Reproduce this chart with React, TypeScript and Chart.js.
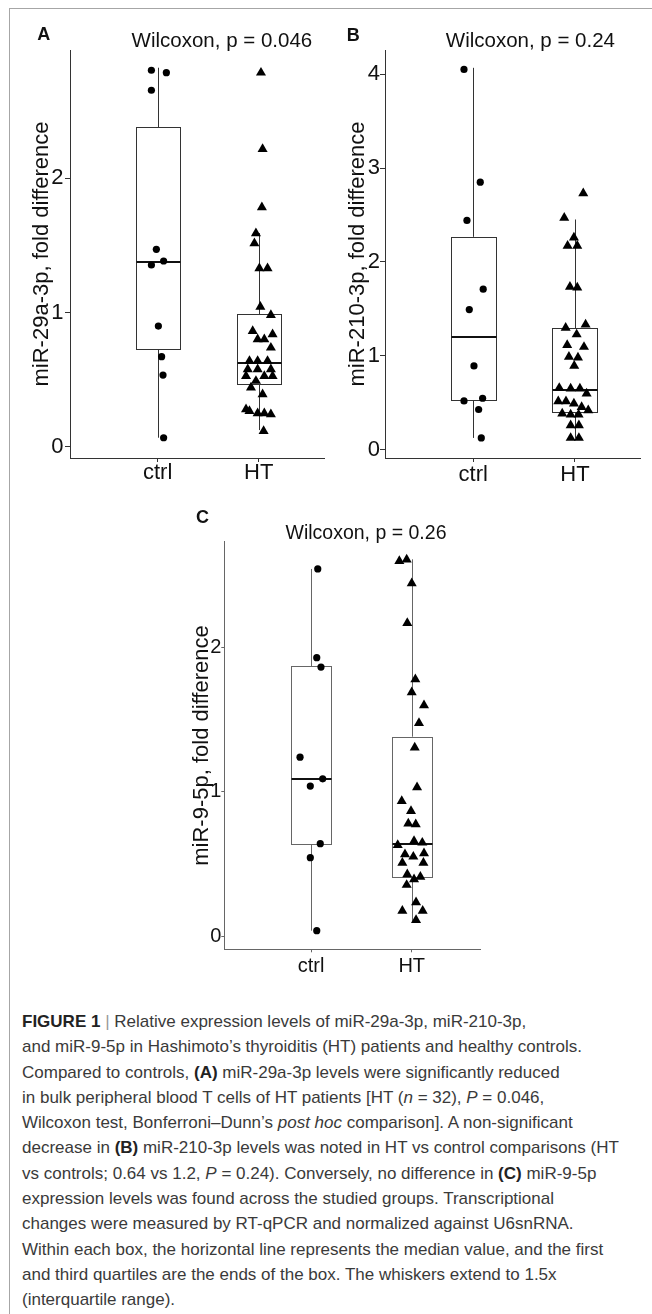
import React, { useEffect, useRef } from "react";
import { Chart, registerables } from "chart.js";
Chart.register(...registerables);

const FONT = "'Liberation Sans', Arial, Helvetica, sans-serif";
const categories = ["ctrl", "HT"];

// ---------- Panel A: miR-29a-3p ----------
const aYTicks = [0, 1, 2];
const aCtrlValues = [2.805, 2.787, 2.656, 1.471, 1.354, 1.384, 0.899, 0.671, 0.534, 0.067];
const aCtrlJitter = [-0.062, 0.086, -0.062, -0.013, -0.062, 0.059, 0.007, 0.039, 0.053, 0.059];
const aHtValues = [2.787, 2.218, 1.784, 1.59, 1.516, 1.329, 1.329, 1.043, 0.981, 0.862, 0.838, 0.8, 0.8, 0.738, 0.639, 0.639, 0.639, 0.577, 0.577, 0.577, 0.527, 0.527, 0.527, 0.44, 0.49, 0.39, 0.279, 0.266, 0.249, 0.249, 0.241, 0.117];
const aHtJitter = [0.023, 0.039, 0.032, -0.027, -0.042, 0.007, 0.088, 0.017, 0.121, -0.059, 0.138, -0.01, 0.056, 0.121, -0.091, -0.01, 0.088, -0.108, -0.01, 0.121, -0.125, 0.056, 0.138, -0.076, -0.027, 0.039, -0.125, -0.091, -0.01, 0.056, 0.121, 0.049];
// [lower whisker, Q1, median, Q3, upper whisker]
const aCtrlBox = [0.067, 0.728, 1.378, 2.38, 2.824];
const aHtBox = [0.124, 0.467, 0.621, 0.989, 1.592];

// ---------- Panel B: miR-210-3p ----------
const bYTicks = [0, 1, 2, 3, 4];
const bCtrlValues = [4.053, 2.851, 2.443, 1.71, 1.493, 0.892, 0.518, 0.547, 0.427, 0.124];
const bCtrlJitter = [-0.091, 0.069, -0.062, 0.098, -0.039, 0.007, -0.091, 0.092, 0.053, 0.079];
const bHtValues = [2.731, 2.47, 2.261, 2.172, 2.172, 1.734, 1.728, 1.297, 1.333, 1.227, 1.113, 1.094, 0.988, 0.981, 0.892, 0.657, 0.651, 0.651, 0.597, 0.515, 0.515, 0.491, 0.454, 0.419, 0.384, 0.373, 0.373, 0.259, 0.259, 0.124, 0.124];
const bHtJitter = [0.082, -0.105, -0.01, -0.072, 0.023, -0.049, 0.023, -0.091, 0.105, 0.017, -0.076, 0.089, -0.059, 0.03, -0.007, -0.154, -0.042, 0.049, 0.115, -0.164, -0.088, -0.01, 0.066, 0.131, -0.125, -0.042, 0.036, -0.042, 0.039, -0.042, 0.039];
const bCtrlBox = [0.124, 0.526, 1.195, 2.268, 4.07];
const bHtBox = [0.124, 0.398, 0.64, 1.291, 2.453];

// ---------- Panel C: miR-9-5p ----------
const cYTicks = [0, 1, 2];
const cCtrlValues = [2.545, 1.93, 1.865, 1.24, 1.09, 1.04, 0.64, 0.543, 0.037];
const cCtrlJitter = [0.067, 0.057, 0.099, -0.109, 0.116, -0.007, 0.092, -0.007, 0.057];
const cHtValues = [2.6, 2.61, 2.446, 2.17, 1.78, 1.69, 1.6, 1.477, 1.306, 1.031, 0.936, 0.867, 0.78, 0.775, 0.659, 0.647, 0.631, 0.567, 0.55, 0.573, 0.508, 0.508, 0.428, 0.411, 0.393, 0.354, 0.234, 0.175, 0.175, 0.111];
const cHtJitter = [-0.123, -0.05, 0, -0.044, 0.036, 0, 0.122, 0.072, 0.03, 0.053, -0.099, -0.007, -0.034, 0.04, 0.023, 0.105, -0.139, -0.067, 0.016, 0.122, -0.093, 0.116, -0.044, 0.086, 0.023, -0.05, 0.043, -0.093, 0.109, 0.043];
const cCtrlBox = [0.037, 0.636, 1.089, 1.872, 2.545];
const cHtBox = [0.104, 0.411, 0.638, 1.382, 2.612];

type PanelCfg = {
  letter: string; note: string; yTitle: string;
  left: number; top: number; w: number; h: number;
  padTop: number; padRight: number; yWidth: number; xHeight: number;
  xMin: number; xMax: number; yMin: number; yMax: number; yTicks: number[];
  tickFont: number; titleFont: number; noteFont: number;
  yTitlePad: number; yTickLen: number; yTickPad: number; xTickLen: number; xTickPad: number;
  halfW: number; noteX: number; noteDy: number; letterX: number; letterY: number;
  lineColor: string;
  ctrlValues: number[]; ctrlJitter: number[]; htValues: number[]; htJitter: number[];
  boxes: number[][];
};

const panels: PanelCfg[] = [
  {
    letter: "A", note: "Wilcoxon, p = 0.046", yTitle: "miR-29a-3p, fold difference",
    left: 0, top: 0, w: 330, h: 500, padTop: 50, padRight: 4, yWidth: 70, xHeight: 42,
    xMin: 0.132, xMax: 2.649, yMin: -0.084, yMax: 2.956, yTicks: aYTicks,
    tickFont: 22, titleFont: 22, noteFont: 20.5,
    yTitlePad: 28.5, yTickLen: 5, yTickPad: 1.5, xTickLen: 4, xTickPad: 0.3,
    halfW: 0.218, noteX: 1.636, noteDy: -3.3, letterX: 37.3, letterY: 40,
    lineColor: "#333",
    ctrlValues: aCtrlValues, ctrlJitter: aCtrlJitter, htValues: aHtValues, htJitter: aHtJitter,
    boxes: [aCtrlBox, aHtBox],
  },
  {
    letter: "B", note: "Wilcoxon, p = 0.24", yTitle: "miR-210-3p, fold difference",
    left: 320, top: 0, w: 332, h: 500, padTop: 50, padRight: 12, yWidth: 65, xHeight: 42,
    xMin: 0.132, xMax: 2.64, yMin: -0.09, yMax: 4.26, yTicks: bYTicks,
    tickFont: 22, titleFont: 22, noteFont: 20.5,
    yTitlePad: 25, yTickLen: 5, yTickPad: 0, xTickLen: 4, xTickPad: 2.3,
    halfW: 0.221, noteX: 1.562, noteDy: -3.3, letterX: 26.7, letterY: 40.7,
    lineColor: "#333",
    ctrlValues: bCtrlValues, ctrlJitter: bCtrlJitter, htValues: bHtValues, htJitter: bHtJitter,
    boxes: [bCtrlBox, bHtBox],
  },
  {
    letter: "C", note: "Wilcoxon, p = 0.26", yTitle: "miR-9-5p, fold difference",
    left: 160, top: 500, w: 340, h: 500, padTop: 41.7, padRight: 20, yWidth: 64.3, xHeight: 50.7,
    xMin: 0.139, xMax: 2.678, yMin: -0.092, yMax: 2.734, yTicks: cYTicks,
    tickFont: 20, titleFont: 22, noteFont: 19.5,
    yTitlePad: 29.1, yTickLen: 3, yTickPad: 0, xTickLen: 3, xTickPad: 3.7,
    halfW: 0.2, noteX: 1.546, noteDy: -2.4, letterX: 36, letterY: 22.7,
    lineColor: "#666",
    ctrlValues: cCtrlValues, ctrlJitter: cCtrlJitter, htValues: cHtValues, htJitter: cHtJitter,
    boxes: [cCtrlBox, cHtBox],
  },
];

function makeBoxPlugin(p: PanelCfg) {
  return {
    id: "boxes" + p.letter,
    beforeDatasetsDraw(chart: any) {
      const { ctx, scales } = chart;
      const x = scales.x, y = scales.y;
      ctx.save();
      p.boxes.forEach((b, i) => {
        const c = x.getPixelForValue(i + 1);
        const l = x.getPixelForValue(i + 1 - p.halfW);
        const r = x.getPixelForValue(i + 1 + p.halfW);
        const [mn, q1, md, q3, mx] = b;
        const cx = Math.round(c) + 0.5;
        ctx.strokeStyle = p.lineColor;
        ctx.lineWidth = 1;
        ctx.beginPath();
        ctx.moveTo(cx, y.getPixelForValue(mx));
        ctx.lineTo(cx, y.getPixelForValue(q3));
        ctx.moveTo(cx, y.getPixelForValue(q1));
        ctx.lineTo(cx, y.getPixelForValue(mn));
        ctx.stroke();
        const top = Math.round(y.getPixelForValue(q3)) + 0.5;
        const bot = Math.round(y.getPixelForValue(q1)) + 0.5;
        const lx = Math.round(l) + 0.5;
        const rx = Math.round(r) + 0.5;
        ctx.fillStyle = "#fff";
        ctx.fillRect(lx, top, rx - lx, bot - top);
        ctx.strokeRect(lx, top, rx - lx, bot - top);
        ctx.strokeStyle = "#111";
        ctx.lineWidth = 2;
        ctx.beginPath();
        const my = Math.round(y.getPixelForValue(md));
        ctx.moveTo(lx, my);
        ctx.lineTo(rx, my);
        ctx.stroke();
      });
      ctx.restore();
    },
  };
}

function makeNotePlugin(p: PanelCfg) {
  return {
    id: "notes" + p.letter,
    afterDraw(chart: any) {
      const { ctx, scales, chartArea } = chart;
      ctx.save();
      ctx.fillStyle = "#111";
      ctx.textBaseline = "alphabetic";
      ctx.font = `${p.noteFont}px ${FONT}`;
      ctx.textAlign = "center";
      ctx.fillText(p.note, scales.x.getPixelForValue(p.noteX), chartArea.top + p.noteDy);
      ctx.font = `bold 18px ${FONT}`;
      ctx.textAlign = "left";
      ctx.fillText(p.letter, p.letterX, p.letterY);
      ctx.restore();
    },
  };
}

function buildConfig(p: PanelCfg): any {
  return {
    type: "scatter",
    data: {
      datasets: [
        {
          label: categories[0],
          data: p.ctrlValues.map((v, i) => ({ x: 1 + p.ctrlJitter[i], y: v })),
          pointStyle: "circle",
          pointRadius: 3.6,
          backgroundColor: "#000",
          borderColor: "#000",
          borderWidth: 0,
        },
        {
          label: categories[1],
          data: p.htValues.map((v, i) => ({ x: 2 + p.htJitter[i], y: v })),
          pointStyle: "triangle",
          pointRadius: 5.8,
          backgroundColor: "#000",
          borderColor: "#000",
          borderWidth: 0,
        },
      ],
    },
    options: {
      responsive: false,
      maintainAspectRatio: false,
      animation: false,
      events: [],
      layout: { padding: { top: p.padTop, right: p.padRight, left: 0, bottom: 0 } },
      plugins: { legend: { display: false }, tooltip: { enabled: false }, title: { display: false } },
      scales: {
        x: {
          type: "linear",
          min: p.xMin,
          max: p.xMax,
          afterBuildTicks: (s: any) => {
            s.ticks = categories.map((_, i) => ({ value: i + 1 }));
          },
          afterFit: (s: any) => {
            s.height = p.xHeight;
          },
          grid: { drawOnChartArea: false, drawTicks: true, tickLength: p.xTickLen, color: p.lineColor, lineWidth: 1 },
          border: { display: true, color: p.lineColor, width: 1 },
          ticks: {
            autoSkip: false,
            maxRotation: 0,
            padding: p.xTickPad,
            color: "#111",
            font: { size: p.tickFont, family: FONT, lineHeight: 1 },
            callback: (v: number) => categories[Math.round(v) - 1] ?? "",
          },
        },
        y: {
          type: "linear",
          min: p.yMin,
          max: p.yMax,
          afterBuildTicks: (s: any) => {
            s.ticks = p.yTicks.map((v) => ({ value: v }));
          },
          afterFit: (s: any) => {
            s.width = p.yWidth;
          },
          grid: { drawOnChartArea: false, drawTicks: true, tickLength: p.yTickLen, color: p.lineColor, lineWidth: 1 },
          border: { display: true, color: p.lineColor, width: 1 },
          ticks: {
            padding: p.yTickPad,
            color: "#111",
            font: { size: p.tickFont, family: FONT },
            callback: (v: number) => String(v),
          },
          title: {
            display: true,
            text: p.yTitle,
            color: "#111",
            font: { size: p.titleFont, family: FONT },
            padding: { top: p.yTitlePad, bottom: 0 },
          },
        },
      },
    },
    plugins: [makeBoxPlugin(p), makeNotePlugin(p)],
  };
}

function Panel({ p }: { p: PanelCfg }) {
  const ref = useRef<HTMLCanvasElement>(null);
  useEffect(() => {
    const chart = new Chart(ref.current as HTMLCanvasElement, buildConfig(p));
    return () => chart.destroy();
  }, [p]);
  return (
    <canvas
      ref={ref}
      width={p.w}
      height={p.h}
      style={{ position: "absolute", left: p.left, top: p.top, width: p.w, height: p.h }}
    />
  );
}

const captionStyle: React.CSSProperties = {
  position: "absolute",
  left: 22,
  top: 1009,
  fontFamily: FONT,
  fontSize: 17,
  lineHeight: "25.3px",
  color: "#3a3a3a",
  whiteSpace: "nowrap",
};

const boldStyle: React.CSSProperties = { color: "#222" };

export default function App() {
  return (
    <div style={{ position: "absolute", left: 0, top: 0, width: 652, height: 1314, background: "#fff", overflow: "hidden" }}>
      <div
        style={{
          position: "absolute",
          left: 9,
          top: 8,
          width: 660,
          height: 1320,
          borderTop: "1px solid #a6a6a6",
          borderLeft: "1px solid #a6a6a6",
        }}
      />
      {panels.map((p) => (
        <Panel key={p.letter} p={p} />
      ))}
      <div style={captionStyle}>
        <div>
          <b style={boldStyle}>FIGURE 1</b> <span style={{ color: "#999" }}>|</span> Relative expression levels of miR-29a-3p, miR-210-3p,
        </div>
        <div>and miR-9-5p in Hashimoto’s thyroiditis (HT) patients and healthy controls.</div>
        <div>
          Compared to controls, <b style={boldStyle}>(A)</b> miR-29a-3p levels were significantly reduced
        </div>
        <div>
          in bulk peripheral blood T cells of HT patients [HT (<i>n</i> = 32), <i>P</i> = 0.046,
        </div>
        <div>
          Wilcoxon test, Bonferroni–Dunn’s <i>post hoc</i> comparison]. A non-significant
        </div>
        <div>
          decrease in <b style={boldStyle}>(B)</b> miR-210-3p levels was noted in HT vs control comparisons (HT
        </div>
        <div>
          vs controls; 0.64 vs 1.2, <i>P</i> = 0.24). Conversely, no difference in <b style={boldStyle}>(C)</b> miR-9-5p
        </div>
        <div>expression levels was found across the studied groups. Transcriptional</div>
        <div>changes were measured by RT-qPCR and normalized against U6snRNA.</div>
        <div>Within each box, the horizontal line represents the median value, and the first</div>
        <div>and third quartiles are the ends of the box. The whiskers extend to 1.5x</div>
        <div>(interquartile range).</div>
      </div>
    </div>
  );
}
